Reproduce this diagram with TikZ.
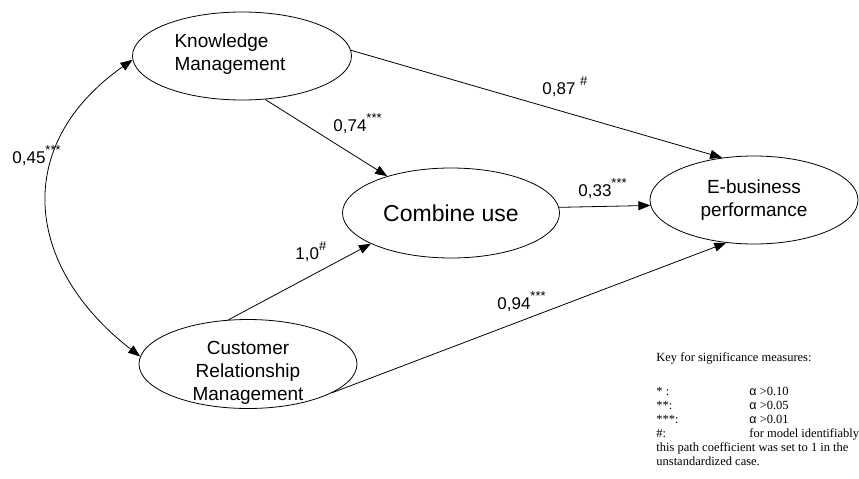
\documentclass[tikz,border=0pt]{standalone}
\usepackage{fontspec}
\setmainfont{Liberation Serif}
\newfontfamily\arialfont{Liberation Sans}
\usetikzlibrary{arrows.meta,shapes.geometric,positioning}
\tikzset{>={Triangle[length=12pt,width=9pt]}}
\newcommand{\sig}[1]{\raisebox{8.5pt}{\fontsize{13}{13}\selectfont #1}}

\begin{document}
\begin{tikzpicture}[x=1pt, y=-1pt, line width=0.8pt,
  latent/.style={ellipse, draw, inner sep=0pt, align=center,
    font=\arialfont\fontsize{19}{23}\selectfont},
  inner/.style={align=left, inner sep=0pt,
    font=\arialfont\fontsize{19}{23}\selectfont},
  coef/.style={anchor=base west, inner sep=0pt,
    font=\arialfont\fontsize{17}{17}\selectfont},
  keytext/.style={anchor=north west, inner sep=0pt, align=left,
    font=\fontsize{12.5}{14}\selectfont}]
  \useasboundingbox (0,0) rectangle (859,479);

  % latent variables
  \node[latent, minimum width=219pt, minimum height=88pt,
    label={[inner, xshift=-12pt, yshift=2pt]center:Knowledge\\Management}] (km) at (242,56) {};
  \node[latent, minimum width=218pt, minimum height=89pt,
    label={[inner, align=center, yshift=-9pt]center:Customer\\Relationship\\Management}] (crm) at (248,364) {};
  \node[latent, minimum width=217pt, minimum height=90pt,
    font=\arialfont\fontsize{23}{23}\selectfont] (comb) at (451,213) {Combine use};
  \node[latent, minimum width=208pt, minimum height=88pt] (ebp) at (754,200) {E-business\\performance};

  % paths
  \path[->] (km.-62) edge (comb.150)
            (km.3) edge (ebp.127)
            (comb.3.2) edge (ebp.183.9)
            (crm.114) edge (comb.201.6)
            (crm.-19.5) edge (ebp.237);
  \draw[<->] (km.182) .. controls +(-121,85) and +(-116,-90) .. (crm.176);

  % coefficients
  \node[coef] (c45) at (12,163) {0,45\sig{***}};
  \node[coef] (c74) at (333,131) {0,74\sig{***}};
  \node[coef] (c87) at (542,94) {0,87 \sig{\#}};
  \node[coef] (c33) at (578,196) {0,33\sig{***}};
  \node[coef] (c10) at (295,259) {1,0\sig{\#}};
  \node[coef] (c94) at (497,309) {0,94\sig{***}};

  % key
  \node[keytext] (key) at (656,352) {Key for significance measures:\\[20pt]
    \makebox[93pt][l]{* :}{\arialfont α} >0.10\\
    \makebox[93pt][l]{**:}{\arialfont α} >0.05\\
    \makebox[93pt][l]{***:}{\arialfont α} >0.01\\
    \makebox[93pt][l]{\#:}for model identifiably\\
    this path coefficient was set to 1 in the\\
    unstandardized case.};
\end{tikzpicture}
\end{document}
